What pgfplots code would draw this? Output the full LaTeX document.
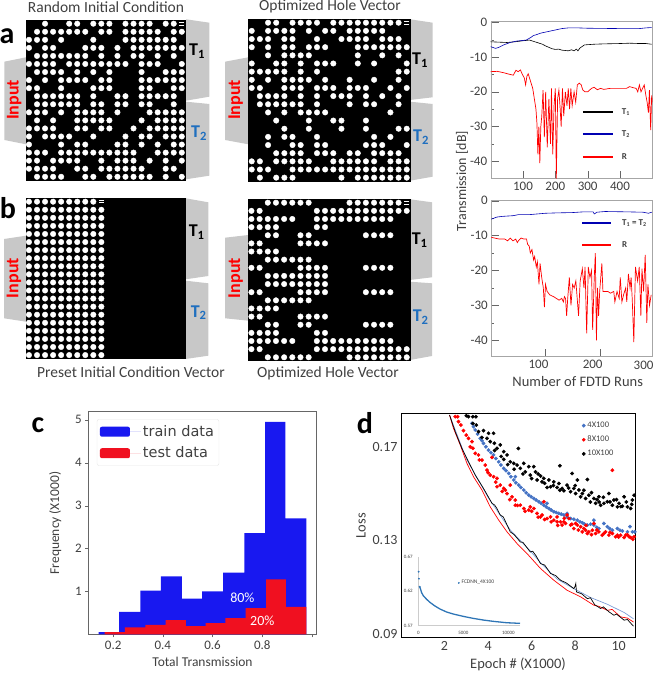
\documentclass[border=0pt]{standalone}
\usepackage{fontspec}
\usepackage{pgfplots}
\pgfplotsset{compat=1.18}
\setmainfont{Carlito}
\newfontfamily\dejavu{DejaVu Sans}
\definecolor{txt}{HTML}{404040}
\definecolor{port}{HTML}{C8C8C8}
\definecolor{tb}{HTML}{1F6FBF}
\definecolor{bb}{HTML}{1818F0}
\definecolor{rr}{HTML}{F01020}
\definecolor{dblue}{HTML}{4472C4}
\definecolor{iblue}{HTML}{2E75B6}
\newcommand{\fs}[1]{\fontsize{#1}{#1}\selectfont}
\pgfplotsset{
 holes/.style={scale only axis, xtick=\empty, ytick=\empty, y dir=reverse,
   axis background/.style={fill=black}, axis line style={black}},
 hole/.style={only marks, mark=*, mark size=2.75pt, color=white, mark options={draw=none,fill=white}},
 dash/.style={only marks, mark=-, mark size=2.6pt, color=white, mark options={line width=0.8pt}},
 spec/.style={scale only axis, axis line style={draw=gray!70}, tick style={draw=gray!80!black},
   tick label style={font=\fs{13}, text=txt}, tick align=inside, major tick length=8pt, minor tick length=3pt,
   ytick pos=left, xtick pos=bottom, clip=true},
}
\begin{document}
\begin{tikzpicture}
\useasboundingbox (0,0) rectangle (657pt,679pt);
% ports
\begin{scope}[x=1pt,y=-1pt,yshift=679pt]
\fill[port] (4.3,61.7)--(26,57.3)--(26,144.3)--(4.3,140)--cycle;
\fill[port] (186,19.3)--(209.3,22.7)--(209.3,96.7)--(186,100.7)--cycle;
\fill[port] (186,101.7)--(209.3,104)--(209.3,175.7)--(186,179.3)--cycle;
\fill[port] (225,61.7)--(248.3,57.3)--(248.3,144.3)--(225,140)--cycle;
\fill[port] (410,19.3)--(432.7,22.7)--(432.7,97.3)--(410,100)--cycle;
\fill[port] (410,101.7)--(432.7,104)--(432.7,176.7)--(410,180.7)--cycle;
\fill[port] (4,239)--(26,235.7)--(26,321.7)--(4,318.3)--cycle;
\fill[port] (185.7,198.3)--(208.3,202.3)--(208.3,276)--(185.7,279.3)--cycle;
\fill[port] (185.7,280.7)--(208.3,283.3)--(208.3,355.7)--(185.7,359)--cycle;
\fill[port] (225,237.7)--(248.3,235)--(248.3,320.7)--(225,318.3)--cycle;
\fill[port] (410,199.3)--(432,202.3)--(432,277.3)--(410,280)--cycle;
\fill[port] (410,281.7)--(432,283.3)--(432,356)--(410,360)--cycle;
\end{scope}

% a1
\begin{axis}[holes, at={(26pt,499pt)}, anchor=south west, width=159pt, height=160pt, xmin=0.63, xmax=20.4, ymin=0.54, ymax=20.4]
\addplot[hole] coordinates {
(3,1)(6,1)(7,1)(9,1)(10,1)(11,1)(13,1)(14,1)(15,1)(16,1)(18,1)(19,1)
(2,2)(3,2)(4,2)(5,2)(6,2)(7,2)(8,2)(10,2)(11,2)(13,2)(14,2)(15,2)(16,2)(17,2)(19,2)(20,2)
(1,3)(2,3)(3,3)(5,3)(9,3)(13,3)(14,3)(15,3)(16,3)(17,3)(18,3)(19,3)
(1,4)(3,4)(4,4)(8,4)(9,4)(10,4)(12,4)(14,4)(15,4)(16,4)(17,4)(18,4)(19,4)(20,4)
(2,5)(3,5)(4,5)(5,5)(6,5)(7,5)(8,5)(10,5)(12,5)(14,5)(15,5)(17,5)(19,5)
(1,6)(2,6)(3,6)(4,6)(6,6)(7,6)(8,6)(9,6)(10,6)(11,6)(12,6)(13,6)(15,6)(16,6)(17,6)(20,6)
(2,7)(3,7)(4,7)(5,7)(7,7)(9,7)(11,7)(15,7)(18,7)(19,7)(20,7)
(1,8)(3,8)(5,8)(6,8)(7,8)(8,8)(10,8)(11,8)(15,8)(16,8)(17,8)(18,8)(19,8)(20,8)
(1,9)(2,9)(5,9)(9,9)(10,9)(11,9)(15,9)(16,9)(19,9)(20,9)
(2,10)(3,10)(4,10)(5,10)(6,10)(7,10)(9,10)(12,10)(13,10)(15,10)(16,10)(17,10)(18,10)(19,10)
(2,11)(3,11)(4,11)(5,11)(6,11)(7,11)(9,11)(10,11)(12,11)(13,11)(15,11)(16,11)(19,11)
(1,12)(2,12)(3,12)(5,12)(7,12)(8,12)(9,12)(10,12)(12,12)(16,12)(17,12)(18,12)(19,12)(20,12)
(2,13)(4,13)(7,13)(8,13)(9,13)(10,13)(11,13)(15,13)(17,13)(18,13)(19,13)(20,13)
(1,14)(2,14)(3,14)(4,14)(7,14)(8,14)(10,14)(11,14)(14,14)(16,14)(17,14)(18,14)(19,14)(20,14)
(1,15)(3,15)(4,15)(5,15)(6,15)(9,15)(13,15)(15,15)(16,15)(18,15)(19,15)(20,15)
(1,16)(5,16)(7,16)(8,16)(12,16)(13,16)(15,16)(17,16)(19,16)(20,16)
(1,17)(2,17)(3,17)(5,17)(6,17)(7,17)(8,17)(9,17)(10,17)(11,17)(12,17)(13,17)(14,17)(17,17)(18,17)(19,17)(20,17)
(1,18)(2,18)(4,18)(5,18)(6,18)(7,18)(10,18)(12,18)(13,18)(14,18)(16,18)(18,18)(20,18)
(1,19)(2,19)(3,19)(4,19)(7,19)(8,19)(10,19)(11,19)(12,19)(13,19)(14,19)(15,19)(18,19)(19,19)
(2,20)(3,20)(4,20)(5,20)(8,20)(9,20)(11,20)(12,20)(13,20)(14,20)(15,20)(16,20)(18,20)(20,20)
};
\addplot[dash] coordinates {(20,0.85)(20,1.15)};
\end{axis}

% a2
\begin{axis}[holes, at={(248.3pt,498pt)}, anchor=south west, width=161.7pt, height=161.7pt, xmin=0.58, xmax=20.4, ymin=0.58, ymax=20.41]
\addplot[hole] coordinates {
(3,1)(4,1)(6,1)(7,1)(8,1)(9,1)(11,1)(12,1)(13,1)(14,1)(15,1)(16,1)(17,1)(18,1)(19,1)
(1,2)(3,2)(4,2)(5,2)(6,2)(8,2)(10,2)(11,2)(13,2)(14,2)(15,2)(16,2)(17,2)
(1,3)(2,3)(3,3)(5,3)(6,3)(9,3)(12,3)(13,3)(14,3)(15,3)(17,3)(18,3)(19,3)
(1,4)(3,4)(5,4)(6,4)(8,4)(9,4)(10,4)(14,4)(15,4)(16,4)(17,4)(18,4)(19,4)(20,4)
(3,5)(5,5)(6,5)(7,5)(8,5)(14,5)(17,5)(19,5)
(1,6)(4,6)(5,6)(7,6)(9,6)(10,6)(11,6)(14,6)(16,6)(20,6)
(1,7)(2,7)(3,7)(4,7)(5,7)(7,7)(9,7)(19,7)(20,7)
(1,8)(3,8)(5,8)(6,8)(7,8)(8,8)(10,8)(13,8)(16,8)(19,8)
(1,9)(2,9)(5,9)(6,9)(7,9)(9,9)(10,9)(11,9)(13,9)(14,9)(15,9)(18,9)(20,9)
(2,10)(3,10)(4,10)(5,10)(7,10)(9,10)(11,10)(12,10)(13,10)(15,10)(17,10)(19,10)
(2,11)(3,11)(4,11)(5,11)(6,11)(7,11)(9,11)(13,11)(15,11)(16,11)(19,11)
(3,12)(5,12)(7,12)(8,12)(9,12)(10,12)(18,12)
(4,13)(8,13)(11,13)(12,13)(15,13)
(5,14)(8,14)(12,14)(15,14)(19,14)(20,14)
(3,15)(5,15)(6,15)(9,15)(16,15)(18,15)
(3,16)(6,16)(7,16)(9,16)(10,16)(15,16)(16,16)(17,16)(20,16)
(4,17)(5,17)(6,17)(7,17)(9,17)(10,17)(11,17)(13,17)(14,17)(16,17)(17,17)(18,17)(19,17)
(1,18)(2,18)(4,18)(5,18)(6,18)(7,18)(8,18)(11,18)(12,18)(13,18)(14,18)(15,18)(16,18)(18,18)(19,18)(20,18)
(1,19)(2,19)(3,19)(6,19)(7,19)(8,19)(9,19)(10,19)(11,19)(12,19)(13,19)(14,19)(15,19)(16,19)(17,19)(18,19)(19,19)(20,19)
(2,20)(4,20)(5,20)(6,20)(12,20)(14,20)(15,20)(16,20)(17,20)(18,20)(19,20)(20,20)
};
\addplot[dash] coordinates {(20,0.85)(20,1.15)};
\end{axis}

% b1
\begin{axis}[holes, at={(26pt,320.7pt)}, anchor=south west, width=159pt, height=160pt, xmin=0.63, xmax=20.4, ymin=0.58, ymax=20.4]
\addplot[hole] coordinates {
(1,1)(2,1)(3,1)(4,1)(5,1)(6,1)(7,1)(8,1)(9,1)
(1,2)(2,2)(3,2)(4,2)(5,2)(6,2)(7,2)(8,2)(9,2)(10,2)
(1,3)(2,3)(3,3)(4,3)(5,3)(6,3)(7,3)(8,3)(9,3)(10,3)
(1,4)(2,4)(3,4)(4,4)(5,4)(6,4)(7,4)(8,4)(9,4)(10,4)
(1,5)(2,5)(3,5)(4,5)(5,5)(6,5)(7,5)(8,5)(9,5)(10,5)
(1,6)(2,6)(3,6)(4,6)(5,6)(6,6)(7,6)(8,6)(9,6)(10,6)
(1,7)(2,7)(3,7)(4,7)(5,7)(6,7)(7,7)(8,7)(9,7)(10,7)
(1,8)(2,8)(3,8)(4,8)(5,8)(6,8)(7,8)(8,8)(9,8)(10,8)
(1,9)(2,9)(3,9)(4,9)(5,9)(6,9)(7,9)(8,9)(9,9)(10,9)
(1,10)(2,10)(3,10)(4,10)(5,10)(6,10)(7,10)(8,10)(9,10)(10,10)
(1,11)(2,11)(3,11)(4,11)(5,11)(6,11)(7,11)(8,11)(9,11)(10,11)
(1,12)(2,12)(3,12)(4,12)(5,12)(6,12)(7,12)(8,12)(9,12)(10,12)
(1,13)(2,13)(3,13)(4,13)(5,13)(6,13)(7,13)(8,13)(9,13)(10,13)
(1,14)(2,14)(3,14)(4,14)(5,14)(6,14)(7,14)(8,14)(9,14)(10,14)
(1,15)(2,15)(3,15)(4,15)(5,15)(6,15)(7,15)(8,15)(9,15)(10,15)
(1,16)(2,16)(3,16)(4,16)(5,16)(6,16)(7,16)(8,16)(9,16)(10,16)
(1,17)(2,17)(3,17)(4,17)(5,17)(6,17)(7,17)(8,17)(9,17)(10,17)
(1,18)(2,18)(3,18)(4,18)(5,18)(6,18)(7,18)(8,18)(9,18)(10,18)
(1,19)(2,19)(3,19)(4,19)(5,19)(6,19)(7,19)(8,19)(9,19)(10,19)
(1,20)(2,20)(3,20)(4,20)(5,20)(6,20)(7,20)(8,20)(9,20)(10,20)
};
\addplot[dash] coordinates {(10,0.85)(10,1.15)};
\end{axis}

% b2
\begin{axis}[holes, at={(248pt,318.3pt)}, anchor=south west, width=162pt, height=161.4pt, xmin=0.58, xmax=20.4, ymin=0.58, ymax=20.42]
\addplot[hole] coordinates {
(3,1)(4,1)(5,1)(6,1)(7,1)(8,1)(13,1)(14,1)(15,1)(16,1)(17,1)(18,1)(19,1)
(1,2)(2,2)(9,2)(10,2)(11,2)(12,2)(13,2)(14,2)(15,2)(16,2)(17,2)(18,2)(19,2)(20,2)
(1,3)(2,3)(3,3)(4,3)(5,3)(6,3)(9,3)(10,3)(11,3)(12,3)(13,3)(14,3)(15,3)(16,3)(17,3)(18,3)
(1,4)(2,4)(3,4)(4,4)(9,4)(10,4)
(3,5)(4,5)(7,5)(8,5)(15,5)(16,5)(17,5)(18,5)
(1,6)(2,6)(7,6)(8,6)(9,6)(10,6)
(1,7)(2,7)(3,7)(4,7)
(3,8)(4,8)(5,8)(6,8)(7,8)(8,8)
(1,9)(2,9)(7,9)(8,9)(9,9)(10,9)(15,9)(16,9)(17,9)(18,9)
(3,10)(4,10)(5,10)(6,10)(7,10)(8,10)(9,10)(10,10)
(3,11)(4,11)(5,11)(6,11)(7,11)(8,11)(9,11)(10,11)
(1,12)(2,12)(7,12)(8,12)(9,12)(10,12)(15,12)(16,12)(17,12)(18,12)
(3,13)(4,13)(5,13)(6,13)(7,13)(8,13)
(1,14)(2,14)(3,14)(4,14)
(1,15)(2,15)(7,15)(8,15)(9,15)(10,15)
(3,16)(4,16)(7,16)(8,16)(15,16)(16,16)(17,16)(18,16)
(1,17)(2,17)(3,17)(4,17)(9,17)(10,17)
(1,18)(2,18)(3,18)(4,18)(5,18)(6,18)(9,18)(10,18)(11,18)(12,18)(13,18)(14,18)(15,18)(16,18)(17,18)(18,18)
(1,19)(2,19)(9,19)(10,19)(11,19)(12,19)(13,19)(14,19)(15,19)(16,19)(17,19)(18,19)(19,19)(20,19)
(3,20)(4,20)(5,20)(6,20)(7,20)(8,20)(13,20)(14,20)(15,20)(16,20)(17,20)(18,20)(19,20)(20,20)
};
\addplot[dash] coordinates {(20,0.85)(20,1.15)};
\end{axis}

% spectrum a
\begin{axis}[spec, at={(490.7pt,500.3pt)}, anchor=south west, width=161.6pt, height=157.4pt,
  xmin=0, xmax=500, ymin=-45, ymax=0.3,
  xtick={100,200,300,400}, xticklabels={100,200,300,400},
  ytick={0,-10,-20,-30,-40}, yticklabels={0,-10,-20,-30,-40},
  minor ytick={-5,-15,-25,-35}]
\addplot[black, line width=0.6pt] coordinates {(0,-5.6)(25,-5.7)(50,-5.8)(75,-5.6)(100,-5.3)(120,-5.1)(130,-5.4)(140,-5.7)(150,-6)(160,-6.3)(170,-6.8)(180,-7.2)(190,-7.6)(200,-7.8)(210,-7.7)(220,-8)(240,-8.2)(250,-7.9)(258,-8.2)(265,-7.7)(270,-8.2)(276,-7.4)(290,-6.5)(305,-6.4)(320,-6.3)(350,-6.2)(400,-6.1)(430,-6)(460,-6.1)(480,-6.1)(498,-6.3)};
\addplot[color=blue!70!black, line width=0.6pt] coordinates {(0,-7)(15,-7.5)(25,-7.2)(40,-6.5)(60,-5.8)(80,-5.4)(110,-5.1)(125,-4.3)(132,-3.8)(140,-3.6)(155,-3.1)(170,-2.8)(185,-2.5)(200,-2.2)(220,-1.8)(240,-1.6)(270,-1.6)(300,-1.7)(350,-1.75)(400,-1.8)(460,-1.8)(480,-1.6)(498,-1.5)};
\addplot[color=red, line width=0.7pt] coordinates {(0,-14.2)(20,-14.1)(40,-14.5)(60,-15)(70,-15.2)(78,-13.8)(85,-14.2)(92,-13.7)(98,-15)(104,-16)(108,-18)(112,-15.5)(116,-14.8)(120,-16)(125,-17.5)(130,-19)(135,-22)(140,-25)(143,-29)(146,-38)(149,-30)(152,-40.5)(155,-30)(158,-27)(162,-19.5)(166,-33)(170,-20)(175,-36)(180,-22)(185,-35)(188,-19)(192,-38)(196,-24)(200,-19)(203,-45)(207,-22)(211,-19.5)(215,-25)(218,-30)(222,-19)(226,-27)(231,-20)(236,-24)(240,-19)(244,-25)(248,-19)(252,-24)(258,-20)(263,-23)(268,-18)(274,-17.5)(280,-18)(285,-19.5)(292,-20)(300,-20)(306,-19.5)(312,-19)(320,-18.7)(330,-19.4)(340,-19)(350,-19.3)(370,-19)(390,-19)(420,-19)(430,-18.5)(440,-18.8)(450,-19)(455,-20)(460,-18)(465,-20)(470,-19)(475,-18)(480,-21)(484,-23)(488,-26)(491,-19.5)(495,-31)(498,-21)(500,-23)};
\addplot[black, line width=1.5pt] coordinates {(285,-25.8)(377,-25.8)};
\addplot[color=blue!70!black, line width=1.5pt] coordinates {(285,-32.2)(377,-32.2)};
\addplot[color=red, line width=1.5pt] coordinates {(285,-38.7)(377,-38.7)};
\node[font=\fs{9}\bfseries,anchor=west,text=txt,inner sep=0pt] at (axis cs:405,-25.8) {T\textsubscript{1}};
\node[font=\fs{9}\bfseries,anchor=west,text=txt,inner sep=0pt] at (axis cs:405,-32.2) {T\textsubscript{2}};
\node[font=\fs{9}\bfseries,anchor=west,text=txt,inner sep=0pt] at (axis cs:405,-38.7) {R};
\end{axis}

% spectrum b
\begin{axis}[spec, at={(491.3pt,322.3pt)}, anchor=south west, width=160.4pt, height=156pt,
  clip=false, xmin=0, xmax=296, ymin=-44.7, ymax=0,
  xtick={100,200}, xticklabels={100,200}, xticklabel style={xshift=-7pt},
  ytick={0,-10,-20,-30,-40}, yticklabels={0,-10,-20,-30,-40},
  minor ytick={-5,-15,-25,-35}]
\addplot[color=blue!70!black, line width=0.6pt] coordinates {(0,-5.3)(10,-4.7)(20,-4.5)(40,-4.3)(50,-4)(70,-4)(85,-3.8)(100,-3.6)(120,-3.5)(150,-3.4)(170,-3.2)(188,-3.2)(190,-3.8)(195,-3.3)(210,-3.1)(250,-3.2)(280,-3.3)(290,-3.6)(296,-3.3)};
\addplot[color=red, line width=0.7pt] coordinates {(0,-10.5)(15,-11)(25,-11)(30,-11.5)(35,-10.7)(40,-11.5)(45,-11)(48,-12)(50,-11.5)(55,-10.7)(60,-11)(65,-11)(67,-12.5)(70,-13)(72,-15)(75,-14)(78,-17)(80,-16)(83,-19)(85,-17.5)(88,-24)(90,-18)(93,-22)(96,-25)(98,-30.5)(100,-24)(103,-26)(108,-27)(115,-27.5)(120,-28)(125,-28.5)(130,-28)(133,-29)(135,-27.5)(137,-28)(139,-33)(141,-28)(144,-22)(147,-30)(150,-24)(153,-25)(156,-23)(158,-27)(161,-33)(164,-23)(168,-19.5)(171,-25)(173,-19)(176,-38)(179,-19)(182,-22)(185,-20)(187,-37)(190,-22)(192,-15)(194,-40)(196,-25)(198,-33)(200,-26)(204,-18)(206,-26)(215,-26)(220,-26.5)(226,-26)(228,-29)(232,-26)(236,-28)(238,-22)(241,-29)(244,-27)(248,-25)(250,-29)(253,-21)(256,-25)(258,-22)(260,-28)(263,-40.5)(266,-19)(270,-23)(273,-19)(276,-33)(278,-19.5)(281,-26)(284,-15.5)(287,-35)(289,-24)(292,-30)(295,-27)};
\addplot[color=blue!70!black, line width=1.5pt] coordinates {(168,-6.4)(221,-6.4)};
\addplot[color=red, line width=1.5pt] coordinates {(168,-12.7)(221,-12.7)};
\node[font=\fs{9}\bfseries,anchor=west,text=txt,inner sep=0pt] at (axis cs:241,-6.4) {T\textsubscript{1} = T\textsubscript{2}};
\node[font=\fs{9}\bfseries,anchor=west,text=txt,inner sep=0pt] at (axis cs:241,-12.7) {R};
\node[font=\fs{13},text=txt] at (axis cs:281,-47.2) {300};
\end{axis}

% c histogram
\begin{axis}[scale only axis, at={(88.3pt,44.7pt)}, anchor=south west, width=228.4pt, height=222.6pt,
  xmin=0.1, xmax=1.019, ymin=0, ymax=5.19,
  axis line style={draw=gray!80!black,line width=0.9pt}, tick style={draw=gray!80!black},
  tick label style={font=\fs{13},text=txt}, tick align=outside, major tick length=3pt,
  xtick={0.2,0.4,0.6,0.8,1.0}, xticklabels={0.2,0.4,0.6,0.8,},
  ytick={1,2,3,4,5}, yticklabels={1,2,3,4,5}, ytick pos=left, xtick pos=bottom,
  xlabel={Total Transmission}, ylabel={Frequency (X1000)},
  ylabel style={yshift=7pt},
  label style={font=\fs{13.5},text=txt},
  legend cell align=left,
  legend style={at={(0.037,0.966)},anchor=north west,draw=gray!20,rounded corners=2pt,font=\fs{14.5}\color{txt},row sep=5pt,inner ysep=4pt},
  legend image code/.code={\fill[#1] (0pt,-5pt) rectangle (30pt,5pt);\path (0pt,0pt) -- (41pt,0pt);}]
\addplot[const plot, fill=bb, draw=none] coordinates {(0.142,0.05)(0.224,0.52)(0.31,1.02)(0.392,1.35)(0.477,0.83)(0.558,1.0)(0.642,1.44)(0.728,2.36)(0.811,4.95)(0.893,2.7)(0.977,2.7)} \closedcycle;
\addlegendentry{\dejavu train data}
\addplot[const plot, fill=rr, draw=none] coordinates {(0.166,0.05)(0.247,0.16)(0.33,0.22)(0.411,0.33)(0.493,0.19)(0.572,0.26)(0.652,0.38)(0.733,0.61)(0.815,1.28)(0.895,0.64)(0.977,0.64)} \closedcycle;
\addlegendentry{\dejavu test data}
\node[text=white,font=\fs{14}] at (axis cs:0.72,0.84) {80\%};
\node[text=white,font=\fs{14}] at (axis cs:0.8,0.32) {20\%};
\end{axis}

% d loss
\begin{axis}[scale only axis, at={(401pt,41.3pt)}, anchor=south west, width=234pt, height=224.3pt,
  xmin=0, xmax=10.75, ymin=0.0884, ymax=0.1844,
  axis line style={black,line width=1pt}, major tick length=0pt,
  tick label style={font=\fs{14},text=txt},
  xtick={2,4,6,8,10}, xticklabels={2,4,6,8,10},
  ytick={0.09,0.13,0.17}, yticklabels={0.09,0.13,0.17},
  xlabel={Epoch \# (X1000)}, ylabel={Loss},
  label style={font=\fs{14.5},text=txt},
  legend cell align=left,
  legend style={at={(0.76,0.98)},anchor=north west,draw=none,fill=none,font=\fs{8.5}\color{txt},row sep=3pt}]
\addplot[forget plot, color=dblue!70!white, line width=0.7pt] coordinates {(2.23,.1837)(3.0,.165)(4.0,.1485)(5.02,.1345)(5.94,.1255)(6.41,.1205)(7.17,.1135)(7.94,.1094)(8.71,.1056)(9.48,.1027)(10.25,.0992)(10.68,.0965)};
\addplot[forget plot, color=red, line width=0.7pt] coordinates {(2.23,.1837)(2.41,.178)(2.72,.1709)(3.03,.163)(3.33,.1573)(3.72,.1516)(4.10,.1444)(4.49,.1387)(4.87,.1337)(5.33,.1287)(5.79,.1244)(6.41,.118)(7.02,.113)(7.63,.1087)(8.25,.1059)(8.86,.1023)(9.1,.1018)(9.48,.1001)(9.7,.1005)(10.09,.0973)(10.4,.0968)(10.68,.0951)};
\addplot[forget plot, color=black, line width=0.7pt] coordinates {(2.23,.1837)(2.49,.1766)(2.80,.1694)(3.10,.1637)(3.41,.158)(3.79,.1523)(4.18,.1459)(4.3,.1452)(4.4,.1438)(4.56,.1409)(4.7,.1401)(5.02,.1337)(5.2,.1325)(5.48,.1294)(5.6,.1292)(5.7,.128)(5.94,.1251)(6.05,.1254)(6.2,.1235)(6.41,.1201)(6.6,.1195)(6.87,.1159)(7.1,.115)(7.33,.113)(7.6,.1118)(7.94,.1094)(8.0,.1105)(8.03,.1116)(8.06,.108)(8.3,.1072)(8.56,.1051)(8.7,.1055)(8.9,.1025)(9.17,.1009)(9.3,.1016)(9.55,.0995)(9.78,.098)(9.9,.0985)(10.25,.0959)(10.4,.0962)(10.68,.0933)};
\addplot[only marks, mark=*, color=dblue, mark size=1.7pt, mark options={draw=none,fill=dblue}] coordinates {(3.26,.1801)(3.33,.1787)(3.41,.1773)(3.52,.1756)(3.64,.1737)(3.72,.1727)(3.79,.1716)(3.90,.1701)(4.02,.1687)(4.13,.1676)(4.25,.1666)(4.36,.1651)(4.49,.1637)(4.59,.1623)(4.72,.1609)(4.82,.1599)(4.95,.1587)(5.05,.1573)(5.18,.1559)(5.28,.1547)(5.41,.1537)(5.51,.1527)(5.64,.1516)(5.75,.1504)(5.87,.1494)(5.98,.1487)(6.10,.148)(6.21,.1473)(6.33,.1466)(6.44,.1459)(6.56,.1451)(6.67,.1444)(6.79,.1437)(6.90,.143)(7.02,.1423)(7.13,.142)(7.25,.1416)(7.36,.1413)(7.48,.1409)(7.63,.1401)(7.79,.1394)(7.94,.1391)(8.10,.1387)(8.22,.138)(8.33,.1376)(8.43,.137)(8.56,.1366)(8.71,.137)(8.86,.1366)(8.99,.1356)(9.09,.1351)(9.32,.1373)(9.48,.1359)(9.59,.1351)(9.71,.1344)(9.94,.1351)(10.06,.1344)(10.17,.1341)(10.40,.1337)(10.52,.1359)(10.63,.1337)(10.74,.1337)(5.25,.1573)(6.71,.1459)(7.63,.1416)(8.86,.1387)};
\addlegendentry{4X100}
\addplot[only marks, mark=*, color=red, mark size=1.7pt, mark options={draw=none,fill=red}] coordinates {(2.49,.183)(2.60,.183)(2.64,.1809)(2.75,.1794)(2.87,.177)(3.00,.1751)(3.10,.1737)(3.26,.1723)(3.18,.1701)(3.41,.1673)(3.56,.1666)(3.72,.1644)(3.87,.1623)(3.95,.1601)(4.10,.158)(4.25,.1573)(4.41,.1566)(4.56,.1537)(4.72,.1523)(4.87,.1501)(5.10,.1487)(5.25,.1473)(5.48,.1451)(5.64,.1437)(5.87,.143)(6.10,.1437)(6.25,.1416)(6.48,.1409)(6.71,.1394)(7.02,.1387)(7.33,.138)(7.63,.1409)(7.79,.1366)(8.10,.1366)(8.40,.1351)(8.63,.1337)(8.86,.1373)(9.09,.1337)(9.32,.133)(9.55,.1323)(9.71,.1601)(9.94,.1323)(10.25,.1313)(10.48,.1316)(10.71,.1316)(4.18,.1656)(5.02,.1537)(6.56,.1466)(5.94,.1444)(7.17,.1401)(7.48,.138)(7.94,.1351)(8.25,.1359)(8.56,.133)(8.79,.1344)(9.24,.1323)(9.71,.133)(10.09,.1323)(10.55,.1313)(6.41,.1401)(6.87,.1401)(5.25,.1451)(4.79,.1516)(4.41,.153)(7.17,.138)(7.40,.1366)(7.56,.1373)(7.71,.1394)(8.02,.1373)(8.33,.1337)(8.48,.1344)(8.94,.133)(9.40,.1337)(9.86,.1316)(10.32,.1323)(3.3,.1695)(3.6,.1645)(4.0,.159)(4.35,.155)(4.65,.151)(5.0,.1475)(5.35,.145)(5.7,.1425)(6.0,.1425)(6.3,.14)(6.6,.139)(6.9,.138)(7.2,.1365)(7.5,.1395)(7.85,.137)(8.15,.1345)(8.5,.1365)(8.75,.1325)(9.0,.1345)(9.6,.1335)(10.0,.1315)(10.4,.1325)(10.65,.1305)};
\addlegendentry{8X100}
\addplot[only marks, mark=*, color=black, mark size=1.7pt, mark options={draw=none,fill=black}] coordinates {(3.00,.1834)(3.10,.183)(3.30,.183)(3.44,.183)(3.30,.1801)(3.46,.1794)(3.56,.1766)(3.79,.177)(4.02,.1759)(4.25,.1759)(3.72,.1741)(3.95,.1737)(4.10,.1723)(4.29,.1716)(4.56,.1709)(4.41,.1694)(4.72,.168)(4.87,.1666)(5.39,.1694)(4.72,.1647)(5.02,.1637)(5.18,.163)(5.33,.1623)(5.64,.163)(5.87,.1616)(6.10,.1616)(5.48,.1609)(5.71,.1594)(5.94,.158)(6.18,.1594)(6.41,.1576)(6.56,.1566)(6.79,.1559)(7.02,.1551)(7.30,.162)(7.17,.1527)(6.87,.153)(7.40,.1523)(7.63,.1537)(7.86,.1587)(8.10,.1559)(8.56,.1561)(7.94,.1523)(8.17,.1516)(8.33,.1501)(8.63,.1494)(8.86,.148)(8.48,.148)(9.09,.1487)(9.32,.1459)(9.55,.1501)(9.78,.1473)(10.02,.1459)(10.25,.1487)(10.40,.1444)(10.63,.1473)(10.71,.1494)(8.94,.1459)(9.17,.1451)(9.48,.1466)(9.71,.1451)(10.17,.1447)(9.94,.1444)(10.55,.1437)(6.25,.1559)(6.48,.1551)(6.71,.1527)(7.25,.1544)(7.48,.1513)(7.79,.1509)(8.02,.1501)(8.25,.1487)(5.2,.1605)(5.6,.1585)(6.0,.1565)(6.3,.1585)(6.6,.1545)(7.0,.1535)(7.3,.1515)(7.7,.1525)(8.0,.1535)(8.4,.1515)(8.7,.1465)(9.0,.1475)(9.3,.1485)(9.6,.1465)(9.9,.1475)(10.1,.1445)(10.35,.1465)(10.6,.1455)(4.9,.1625)(4.6,.166)(4.3,.1685)(8.75,.1505)(9.1,.1465)};
\addlegendentry{10X100}
\end{axis}

% inset
\begin{axis}[scale only axis, at={(418.3pt,53.3pt)}, anchor=south west, width=101.7pt, height=69pt,
  xmin=0, xmax=11285, ymin=0.57, ymax=0.67, axis lines=left, axis line style={draw=gray!40,-},
  scaled x ticks=false, scaled y ticks=false,
  tick style={draw=none}, tick label style={font=\fs{5},text=txt},
  xtick={0,5000,10000}, xticklabels={0,5000,10000},
  ytick={0.57,0.62,0.67}, yticklabels={0.57,0.62,0.67},
  legend style={at={(0.36,0.62)},anchor=west,draw=none,fill=none,font=\fs{5.5}\color{txt}},
  legend cell align=left]
\addplot[only marks, mark=*, color=iblue, mark size=0.7pt, mark options={draw=none,fill=iblue}] coordinates {(37,.6483)(74,.6381)(148,.6265)};
\addlegendentry{FCDNN\_4X100}
\addplot[forget plot, color=iblue, line width=1.3pt] coordinates {(148,.6265)(222,.6241)(370,.6178)(555,.6135)(925,.6082)(1295,.6038)(1850,.5985)(2405,.5942)(3145,.5898)(3885,.5869)(5000,.5835)(6105,.5806)(7215,.5782)(8325,.5763)(9805,.5743)(11285,.5734)};
\end{axis}

% text
\begin{scope}[x=1pt,y=-1pt,yshift=679pt,font=\fs{15.5},text=txt]
\node at (106,7) {Random Initial Condition};
\node at (330,6) {Optimized Hole Vector};
\node at (131,372) {Preset Initial Condition Vector};
\node at (328,373) {Optimized Hole Vector};
\node[font=\fs{30}\bfseries,text=black] at (7,36) {a};
\node[font=\fs{30}\bfseries,text=black] at (8,208) {b};
\node[font=\fs{30}\bfseries,text=black] at (38,425) {c};
\node[font=\fs{30}\bfseries,text=black] at (365,423) {d};
\node[font=\fs{18}\bfseries,text=red,rotate=90] at (14.3,100) {Input};
\node[font=\fs{18}\bfseries,text=red,rotate=90] at (235.7,100) {Input};
\node[font=\fs{18}\bfseries,text=red,rotate=90] at (14,278) {Input};
\node[font=\fs{18}\bfseries,text=red,rotate=90] at (235.7,278) {Input};
\node[font=\fs{18}\bfseries,text=black] at (197,51) {T\textsubscript{1}};
\node[font=\fs{18}\bfseries,text=tb] at (199,133) {T\textsubscript{2}};
\node[font=\fs{18}\bfseries,text=black] at (420,60) {T\textsubscript{1}};
\node[font=\fs{18}\bfseries,text=tb] at (421,137) {T\textsubscript{2}};
\node[font=\fs{18}\bfseries,text=black] at (196.7,232) {T\textsubscript{1}};
\node[font=\fs{18}\bfseries,text=tb] at (198.7,312.7) {T\textsubscript{2}};
\node[font=\fs{18}\bfseries,text=black] at (419.7,240.3) {T\textsubscript{1}};
\node[font=\fs{18}\bfseries,text=tb] at (420.7,317) {T\textsubscript{2}};
\node[rotate=90,font=\fs{14}] at (462,181) {Transmission [dB]};
\node[font=\fs{14.5}] at (577.7,382) {Number of FDTD Runs};
\end{scope}
\end{tikzpicture}
\end{document}
